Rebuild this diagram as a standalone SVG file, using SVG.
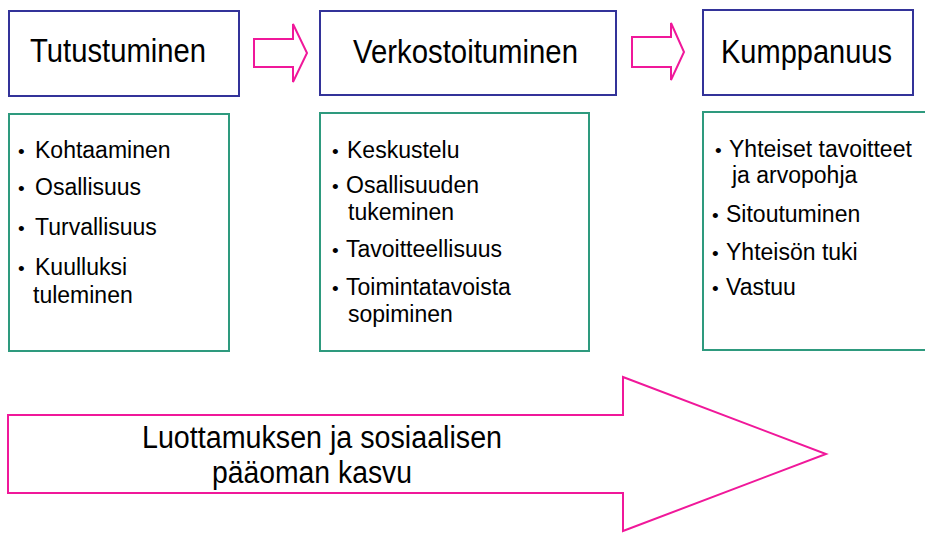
<svg xmlns="http://www.w3.org/2000/svg" width="925" height="534" viewBox="0 0 925 534">
<style>
.title{fill:#fff;stroke:#333399;stroke-width:2}
.list{fill:#fff;stroke:#2e9a7e;stroke-width:2}
.arrow{fill:#fff;stroke:#f0189a;stroke-width:2;stroke-linejoin:miter}
text{font-family:"Liberation Sans",Arial,sans-serif;fill:#000}
.t{font-size:33px}
.b{font-size:23px}
.d{font-size:19px}
.big{font-size:31px}
</style>
<rect width="925" height="534" fill="#fff"/>
<g id="connectors">
<polygon class="arrow" points="254,39 293,39 293,24 307,53 293,82 293,67 254,67"/>
<polygon class="arrow" points="632,37 671,37 671,23 684,52 671,80 671,67 632,67"/>
</g>
<g id="node-tutustuminen">
<rect class="title" x="9" y="11" width="230" height="85"/>
<text class="t" x="30" y="62" textLength="176" lengthAdjust="spacingAndGlyphs">Tutustuminen</text>
</g>
<g id="node-verkostoituminen">
<rect class="title" x="320" y="11" width="296" height="84"/>
<text class="t" x="353" y="63" textLength="225" lengthAdjust="spacingAndGlyphs">Verkostoituminen</text>
</g>
<g id="node-kumppanuus">
<rect class="title" x="703" y="10" width="210" height="85"/>
<text class="t" x="721" y="63" textLength="171" lengthAdjust="spacingAndGlyphs">Kumppanuus</text>
</g>
<g id="list-1">
<rect class="list" x="9" y="114" width="220" height="237"/>
<text class="d" x="18" y="158">•</text><text class="b" x="35" y="158">Kohtaaminen</text>
<text class="d" x="18" y="195">•</text><text class="b" x="35" y="195">Osallisuus</text>
<text class="d" x="18" y="235">•</text><text class="b" x="35" y="235">Turvallisuus</text>
<text class="d" x="18" y="275">•</text><text class="b" x="35" y="275">Kuulluksi</text>
<text class="b" x="33" y="303">tuleminen</text>
</g>
<g id="list-2">
<rect class="list" x="320" y="113" width="269" height="238"/>
<text class="d" x="332" y="158">•</text><text class="b" x="347" y="158">Keskustelu</text>
<text class="d" x="332" y="193">•</text><text class="b" x="346" y="193">Osallisuuden</text>
<text class="b" x="348" y="220">tukeminen</text>
<text class="d" x="332" y="257">•</text><text class="b" x="346" y="257">Tavoitteellisuus</text>
<text class="d" x="332" y="295">•</text><text class="b" x="346" y="295">Toimintatavoista</text>
<text class="b" x="348" y="322">sopiminen</text>
</g>
<g id="list-3">
<rect class="list" x="703" y="112" width="240" height="238"/>
<text class="d" x="715" y="157">•</text><text class="b" x="729" y="157">Yhteiset tavoitteet</text>
<text class="b" x="732" y="183">ja arvopohja</text>
<text class="d" x="712" y="222">•</text><text class="b" x="726" y="222">Sitoutuminen</text>
<text class="d" x="712" y="260">•</text><text class="b" x="726" y="260">Yhteisön tuki</text>
<text class="d" x="712" y="295">•</text><text class="b" x="726" y="295">Vastuu</text>
</g>
<g id="node-kasvu">
<polygon class="arrow" points="8,415 623,415 623,377 826,454 623,531 623,493 8,493"/>
<text class="big" x="142" y="448" textLength="360" lengthAdjust="spacingAndGlyphs">Luottamuksen ja sosiaalisen</text>
<text class="big" x="212" y="483" textLength="200" lengthAdjust="spacingAndGlyphs">pääoman kasvu</text>
</g>
</svg>
